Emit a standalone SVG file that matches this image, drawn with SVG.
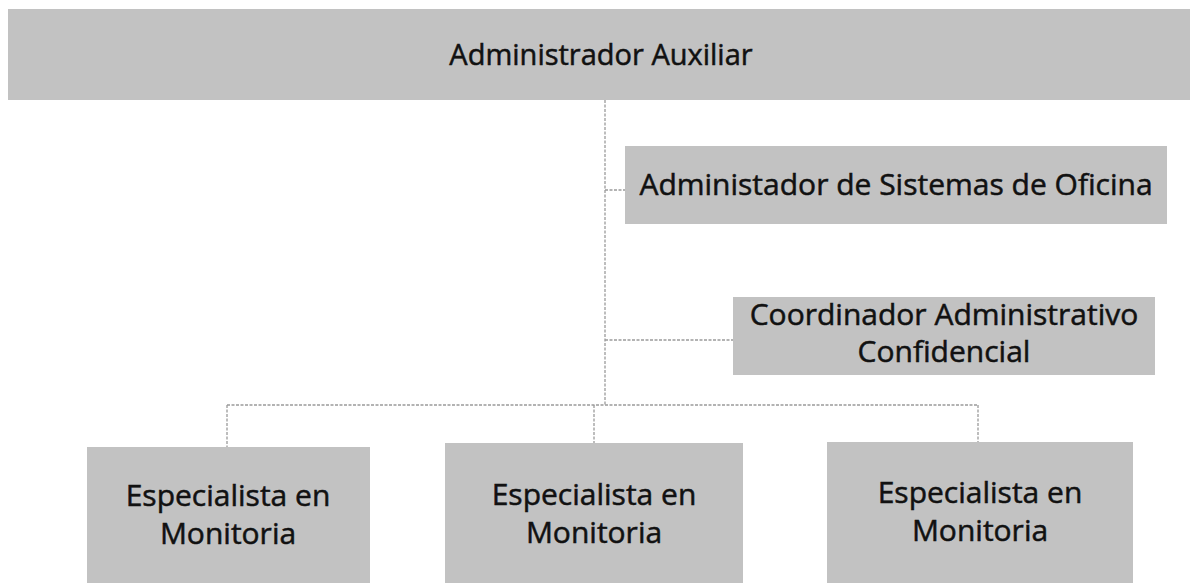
<svg xmlns="http://www.w3.org/2000/svg" width="1193" height="583" viewBox="0 0 1193 583">
<style>
.box{fill:#c2c2c2;}
.lbl{font-family:"Open Sans","Liberation Sans",sans-serif;font-size:30px;fill:#111;stroke:#111;stroke-width:0.5;text-anchor:middle;}
.conn{fill:none;stroke:#9a9a9a;stroke-width:1.3;stroke-dasharray:3 1.5;}
</style>
<rect width="1193" height="583" fill="#ffffff"/>
<g id="connectors">
<path class="conn" d="M605 100 V405"/>
<path class="conn" d="M605 190 H625"/>
<path class="conn" d="M605 340 H733"/>
<path class="conn" d="M227 405 H978"/>
<path class="conn" d="M227 405 V447"/>
<path class="conn" d="M594 405 V443"/>
<path class="conn" d="M978 405 V442"/>
</g>
<g id="node-admin-aux">
<rect class="box" x="8" y="9" width="1182" height="91"/>
<text class="lbl" x="601" y="65" style="font-size:29px">Administrador Auxiliar</text>
</g>
<g id="node-sistemas">
<rect class="box" x="625" y="146" width="542" height="78"/>
<text class="lbl" x="896" y="195">Administador de Sistemas de Oficina</text>
</g>
<g id="node-coordinador">
<rect class="box" x="733" y="297" width="422" height="78"/>
<text class="lbl" x="944" y="325">Coordinador Administrativo</text>
<text class="lbl" x="944" y="362">Confidencial</text>
</g>
<g id="node-esp1">
<rect class="box" x="87" y="447" width="283" height="136"/>
<text class="lbl" x="228" y="506">Especialista en</text>
<text class="lbl" x="228" y="544">Monitoria</text>
</g>
<g id="node-esp2">
<rect class="box" x="445" y="443" width="298" height="140"/>
<text class="lbl" x="594" y="505">Especialista en</text>
<text class="lbl" x="594" y="543">Monitoria</text>
</g>
<g id="node-esp3">
<rect class="box" x="827" y="442" width="306" height="141"/>
<text class="lbl" x="980" y="503">Especialista en</text>
<text class="lbl" x="980" y="541">Monitoria</text>
</g>
</svg>
